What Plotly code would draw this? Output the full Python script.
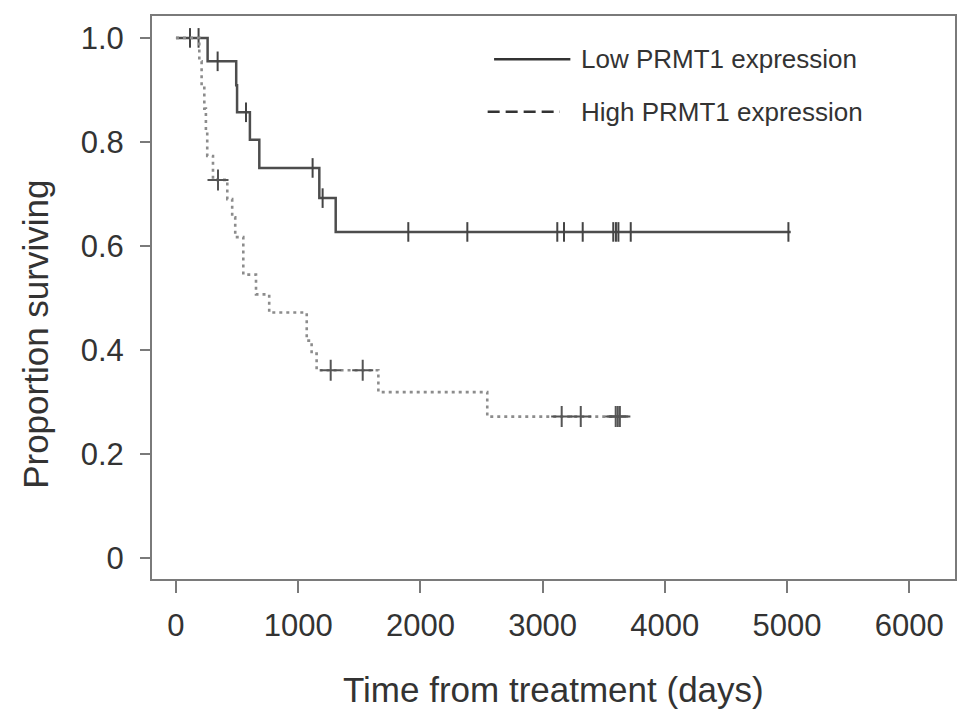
import numpy as np
import plotly.graph_objects as go

# Kaplan-Meier kroky (cas, preziti)
low_time = [0, 259, 493, 500, 605, 682, 1173, 1307]
low_surv = [1.0, 0.955, 0.909, 0.857, 0.804, 0.750, 0.692, 0.627]
low_end = 5030
low_censor = [115, 185, 341, 573, 1118, 1200, 1901, 2384, 3120, 3175,
              3328, 3578, 3600, 3620, 3721, 5011]

high_time = [0, 191, 210, 232, 245, 256, 303, 420, 460, 485, 551, 655,
             763, 1070, 1110, 1151, 1656, 2547]
high_surv = [1.0, 0.955, 0.909, 0.864, 0.818, 0.773, 0.727, 0.690, 0.655,
             0.617, 0.545, 0.507, 0.472, 0.418, 0.393, 0.361, 0.319, 0.272]
high_end = 3640
high_censor = [344, 1266, 1528, 3156, 3312, 3598, 3615, 3632]

x_ticks = [0, 1000, 2000, 3000, 4000, 5000, 6000]
y_ticks = [0, 0.2, 0.4, 0.6, 0.8, 1.0]
y_labels = ['0', '0.2', '0.4', '0.6', '0.8', '1.0']

FONT = 'Liberation Sans, Arial, sans-serif'
TXT = '#333333'
AX = '#7a7a7a'


def step_at(times, surv, t):
    i = np.searchsorted(times, t, side='right') - 1
    return surv[i]


fig = go.Figure()

fig.add_trace(go.Scatter(
    x=low_time + [low_end], y=low_surv + [low_surv[-1]],
    mode='lines', line=dict(shape='hv', color='#4d4d4d', width=2.5),
    showlegend=False))
fig.add_trace(go.Scatter(
    x=low_censor, y=[step_at(low_time, low_surv, t) for t in low_censor],
    mode='markers',
    marker=dict(symbol='line-ns', size=14, line=dict(color='#444444', width=2)),
    showlegend=False))

fig.add_trace(go.Scatter(
    x=high_time + [high_end], y=high_surv + [high_surv[-1]],
    mode='lines', line=dict(shape='hv', color='#8c8c8c', width=2.6, dash='3px,4px'),
    showlegend=False))
fig.add_trace(go.Scatter(
    x=high_censor, y=[step_at(high_time, high_surv, t) for t in high_censor],
    mode='markers',
    marker=dict(symbol='cross-thin', size=15, line=dict(color='#555555', width=2)),
    showlegend=False))

# Legenda kreslena rucne (plna a carkovana cara)
fig.add_shape(type='line', xref='paper', yref='paper', x0=0.426, x1=0.521,
              y0=0.923, y1=0.923, line=dict(color='#333333', width=2.5))
fig.add_shape(type='line', xref='paper', yref='paper', x0=0.418, x1=0.508,
              y0=0.830, y1=0.830, line=dict(color='#333333', width=2.5, dash='12px,6px'))
fig.add_annotation(text='Low PRMT1 expression', xref='paper', yref='paper',
                   x=0.532, y=0.923, xanchor='left', yanchor='middle', showarrow=False,
                   font=dict(family=FONT, size=26, color=TXT))
fig.add_annotation(text='High PRMT1 expression', xref='paper', yref='paper',
                   x=0.532, y=0.830, xanchor='left', yanchor='middle', showarrow=False,
                   font=dict(family=FONT, size=26, color=TXT))

# Popisky os
fig.add_annotation(text='Time from treatment (days)', xref='paper', yref='paper',
                   x=0.5, y=-0.196, xanchor='center', yanchor='middle', showarrow=False,
                   font=dict(family=FONT, size=35, color=TXT))
fig.add_annotation(text='Proportion surviving', xref='paper', yref='paper',
                   x=-0.146, y=0.435, xanchor='center', yanchor='middle', showarrow=False,
                   textangle=-90, font=dict(family=FONT, size=35, color=TXT))

fig.update_xaxes(range=[-196, 6374], tickvals=x_ticks, ticks='outside', ticklen=12,
                 tickwidth=2, tickcolor=AX, showline=True, linecolor=AX, linewidth=2,
                 mirror=True, showgrid=False, zeroline=False, ticklabelstandoff=6,
                 tickfont=dict(family=FONT, size=31, color=TXT))
fig.update_yaxes(range=[-0.0402, 1.0421], tickvals=y_ticks, ticktext=y_labels,
                 ticks='outside', ticklen=10, tickwidth=2, tickcolor=AX,
                 showline=True, linecolor=AX, linewidth=2, mirror=True,
                 showgrid=False, zeroline=False, ticklabelstandoff=10,
                 tickfont=dict(family=FONT, size=31, color=TXT))

# stranka ma 8px okraj, proto posunute okraje
fig.update_layout(width=969, height=724, margin=dict(l=144, r=22, t=6, b=153),
                  plot_bgcolor='white', paper_bgcolor='white')

fig.write_html('out.html')
